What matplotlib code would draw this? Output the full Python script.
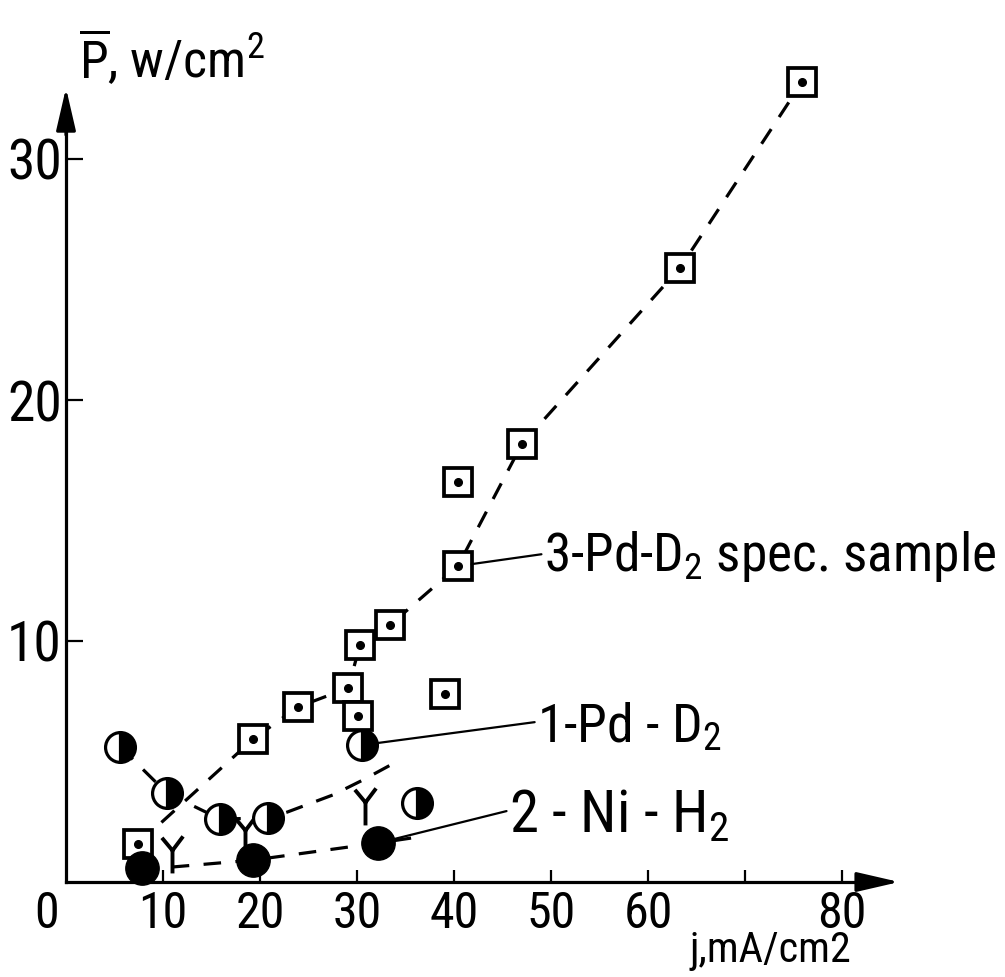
import matplotlib
matplotlib.use("Agg")
import matplotlib.pyplot as plt
from matplotlib.path import Path
from matplotlib import font_manager as fm
from matplotlib.text import Text

# ---------------- data ----------------
# 3 - Pd-D2 spec. sample (open squares with dot)
sq_x = [7.4, 19.3, 23.9, 29.1, 30.1, 30.3, 33.4, 39.1, 40.4, 40.4, 47.0, 63.3, 75.9]
sq_y = [1.58, 5.93, 7.26, 8.05, 6.89, 9.83, 10.66, 7.80, 13.11, 16.60, 18.17, 25.48, 33.2]
# 1 - Pd-D2 (half-filled circles)
pd_x = [5.6, 10.4, 15.9, 20.8, 30.5, 36.2]
pd_y = [5.60, 3.69, 2.61, 2.66, 5.68, 3.28]
# 2 - Ni-H2 (filled circles)
ni_x = [7.8, 19.3, 32.2]
ni_y = [0.58, 0.91, 1.62]
# "Y" symbols
yy_x = [10.9, 18.5, 30.8]
yy_y = [1.33, 2.16, 3.32]

# dashed trend curves
sq_fit_x = [7.4, 19.3, 23.9, 29.1, 30.3, 33.4, 40.4, 47.0, 63.3, 75.9]
sq_fit_y = [1.58, 5.93, 7.26, 8.05, 9.83, 10.66, 13.11, 18.17, 25.48, 33.2]
pd_fit_x = [5.6, 10.4, 15.9, 20.8, 22.8, 27.5, 30.6, 34.4]
pd_fit_y = [5.60, 3.69, 2.61, 2.66, 2.90, 3.61, 4.23, 5.06]
ni_fit_x = [10.9, 19.3, 32.2, 35.7]
ni_fit_y = [0.62, 0.91, 1.62, 1.83]

x_tick_marks = [10, 20, 30, 40, 50, 60, 70, 80]
x_tick_values = [0, 10, 20, 30, 40, 50, 60, 80]
x_tick_labels = ["0", "10", "20", "30", "40", "50", "60", "80"]
y_ticks = [10, 20, 30]
y_tick_labels = ["10", "20", "30"]

label_1 = r"1-Pd - D$_{\mathrm{2}}$"
label_2 = r"2 - Ni - H$_{\mathrm{2}}$"
label_3 = r"3-Pd-D$_{\mathrm{2}}$ spec. sample"
y_title = r"$\overline{\mathrm{P}}$, w/cm$^{\mathrm{2}}$"
x_title = "j,mA/cm2"


# ---------------- font: prefer a narrow face ----------------
def pick_font():
    lst = fm.fontManager.ttflist
    names = {f.name for f in lst}
    for cand in ["Liberation Sans Narrow", "Roboto Condensed", "Noto Sans Condensed",
                 "Open Sans Condensed", "DejaVu Sans Condensed", "Arial Narrow"]:
        if cand in names:
            return cand, "normal"
    for fam in ["Noto Sans", "DejaVu Sans", "Roboto", "Open Sans"]:
        for st in ["condensed", "semi-condensed"]:
            for f in lst:
                if f.name == fam and f.stretch == st and f.style == "normal":
                    return fam, st
    for f in lst:
        n = f.name
        if ("Narrow" in n or "Condensed" in n) and "Mono" not in n:
            return n, "normal"
    return "Roboto", "normal"


FONT, STRETCH = pick_font()
plt.rcParams["font.family"] = [FONT, "DejaVu Sans"]
plt.rcParams["font.stretch"] = STRETCH
spec = FONT if STRETCH == "normal" else "%s:stretch=%s" % (FONT, STRETCH)
plt.rcParams["mathtext.fontset"] = "custom"
plt.rcParams["mathtext.rm"] = spec
plt.rcParams["mathtext.it"] = spec
plt.rcParams["mathtext.bf"] = spec

# ---------------- layout ----------------
W, H = 1005, 977
X0, SX = 66.0, 9.7     # pixel of x=0, px per unit
Y0, SY = 882.0, 24.1   # pixel row of y=0, px per unit

fig = plt.figure(figsize=(W / 100, H / 100), dpi=100)
ax = fig.add_axes([0, 0, 1, 1])
ax.set_xlim(-X0 / SX, (W - X0) / SX)
ax.set_ylim(-(H - Y0) / SY, Y0 / SY)
ax.patch.set_alpha(0)

for s in ["top", "right"]:
    ax.spines[s].set_visible(False)
for s in ["left", "bottom"]:
    ax.spines[s].set_position(("data", 0))
    ax.spines[s].set_linewidth(2.3)
ax.spines["left"].set_bounds(0, 31.8)
ax.spines["bottom"].set_bounds(0, 84.0)

# arrow heads of axes
ax.annotate("", xy=(85.9, 0), xytext=(83.0, 0),
            arrowprops=dict(arrowstyle="-|>,head_length=1.3,head_width=0.3",
                            color="k", lw=2.3, mutation_scale=20,
                            shrinkA=0, shrinkB=0))
ax.annotate("", xy=(0, 32.95), xytext=(0, 31.0),
            arrowprops=dict(arrowstyle="-|>,head_length=1.3,head_width=0.3",
                            color="k", lw=2.3, mutation_scale=20,
                            shrinkA=0, shrinkB=0))

# ticks: labels as major ticks (no marks), marks as minor ticks
ax.xaxis.remove_overlapping_locs = False
x_label_pos = [v if v != 0 else -2.0 for v in x_tick_values]
ax.set_xticks(x_label_pos)
ax.set_xticklabels(x_tick_labels)
ax.set_xticks(x_tick_marks, minor=True)
ax.tick_params(axis="x", which="major", length=0, pad=6, labelsize=36)
ax.tick_params(axis="x", which="minor", direction="in", length=9, width=1.6)
ax.set_yticks(y_ticks)
ax.set_yticklabels(y_tick_labels)
ax.tick_params(axis="y", which="major", direction="in", length=12, width=1.6,
               pad=3, labelsize=40)

# dashed curves
dash = (0, (5.5, 4.5))
ax.plot(sq_fit_x, sq_fit_y, color="k", lw=2.3, ls=dash, zorder=2)
ax.plot(pd_fit_x, pd_fit_y, color="k", lw=2.3, ls=dash, zorder=2)
ax.plot(ni_fit_x, ni_fit_y, color="k", lw=2.3, ls=dash, zorder=2)

# markers
ax.plot(sq_x, sq_y, ls="none", marker="s", ms=19.5, mfc="white", mec="k",
        mew=2.7, zorder=3)
ax.plot(sq_x, sq_y, ls="none", marker="o", ms=5.5, mfc="k", mec="k", zorder=4)
ax.plot(pd_x, pd_y, ls="none", marker="o", ms=21.5, fillstyle="right",
        mfc="k", mfcalt="white", mec="k", mew=2.3, zorder=5)
ax.plot(ni_x, ni_y, ls="none", marker="o", ms=24, mfc="k", mec="k", zorder=6)

y_marker = Path([(-0.30, 0.36), (0, 0), (0.30, 0.40), (0, 0), (0, -0.65)],
                [Path.MOVETO, Path.LINETO, Path.LINETO, Path.MOVETO, Path.LINETO])
ax.plot(yy_x, yy_y, ls="none", marker=y_marker, ms=33, mfc="none", mec="k",
        mew=2.8, zorder=4)

# labels with leader lines
t3 = ax.annotate(label_3, xy=(sq_x[8], sq_y[8]), xytext=(49.3, 12.9),
                 fontsize=37, va="baseline", ha="left",
                 arrowprops=dict(arrowstyle="-", lw=1.6, color="k", shrinkA=0,
                                 shrinkB=10, relpos=(0, 0.55)), zorder=7)
t1 = ax.annotate(label_1, xy=(pd_x[4], pd_y[4]), xytext=(48.6, 5.8),
                 fontsize=35, va="baseline", ha="left",
                 arrowprops=dict(arrowstyle="-", lw=1.6, color="k", shrinkA=0,
                                 shrinkB=10, relpos=(0, 0.6)), zorder=7)
t2 = ax.annotate(label_2, xy=(ni_x[2], ni_y[2]), xytext=(45.7, 2.05),
                 fontsize=44, va="baseline", ha="left",
                 arrowprops=dict(arrowstyle="-", lw=1.6, color="k", shrinkA=0,
                                 shrinkB=11, relpos=(0, 0.6)), zorder=7)

ty = ax.text(1.3, 33.35, y_title, fontsize=36, va="baseline", ha="left")
tx = ax.text(64.3, -3.3, x_title, fontsize=32, va="baseline", ha="left")

# scale texts to the widths they take in the reference (within limits)
fig.canvas.draw()
rend = fig.canvas.get_renderer()
for t, target in [(t3, 452), (t1, 185), (t2, 220), (ty, 186), (tx, 162)]:
    w = Text.get_window_extent(t, rend).width
    f = min(max(target / w, 0.8), 1.15)
    t.set_fontsize(t.get_fontsize() * f)

fig.savefig("out.png", dpi=100)
